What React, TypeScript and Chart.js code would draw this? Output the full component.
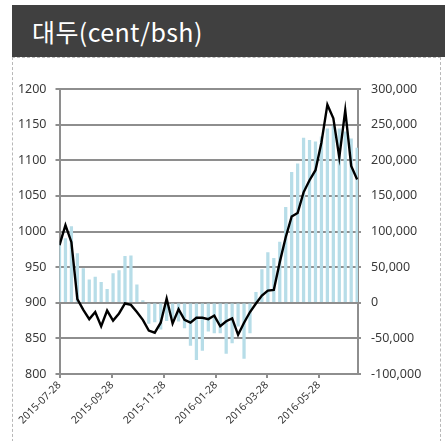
import React, { useEffect, useRef } from "react";
import { Chart, registerables } from "chart.js";

Chart.register(...registerables);

// Weekly observation dates
const dates = [
  "2015-07-28", "2015-08-04", "2015-08-11", "2015-08-18", "2015-08-25",
  "2015-09-01", "2015-09-08", "2015-09-15", "2015-09-22", "2015-09-29",
  "2015-10-06", "2015-10-13", "2015-10-20", "2015-10-27", "2015-11-03",
  "2015-11-10", "2015-11-17", "2015-11-24", "2015-12-01", "2015-12-08",
  "2015-12-15", "2015-12-22", "2015-12-29", "2016-01-05", "2016-01-12",
  "2016-01-19", "2016-01-26", "2016-02-02", "2016-02-09", "2016-02-16",
  "2016-02-23", "2016-03-01", "2016-03-08", "2016-03-15", "2016-03-22",
  "2016-03-29", "2016-04-05", "2016-04-12", "2016-04-19", "2016-04-26",
  "2016-05-03", "2016-05-10", "2016-05-17", "2016-05-24", "2016-05-31",
  "2016-06-07", "2016-06-14", "2016-06-21", "2016-06-28", "2016-07-05",
  "2016-07-12",
];

// Soybean price (cent/bsh), left axis
const priceCents = [
  981, 1009, 985, 905, 890, 877, 887, 867, 889, 875,
  885, 899, 897, 887, 876, 861, 858, 872, 906, 871,
  891, 876, 872, 879, 879, 877, 882, 867, 874, 878,
  855, 872, 887, 899, 910, 917, 918, 957, 992, 1021,
  1026, 1055, 1072, 1086, 1125, 1178, 1159, 1104, 1170, 1092,
  1073,
];

// Net positions (contracts), right axis
const netPositions = [
  85000, 90000, 107000, 69000, 48000, 32000, 36000, 28500, 19000, 41000,
  45000, 65000, 66000, 25000, 3000, -29000, -27000, -37000, -25000, -21500,
  -26000, -35500, -60000, -80000, -67000, -40000, -42500, -42500, -71000, -56500,
  -33000, -78000, -42500, 14500, 46500, 70500, 62500, 85000, 134000, 183000,
  195000, 231000, 228000, 226000, 233000, 244000, 248000, 244000, 240000, 230000,
  217000,
];

const xTickDates = ["2015-07-28", "2015-09-28", "2015-11-28", "2016-01-28", "2016-03-28", "2016-05-28"];
const axisStartDate = "2015-07-28";
const axisEndDate = "2016-07-13";
const leftTicks = [800, 850, 900, 950, 1000, 1050, 1100, 1150, 1200];
const rightTicks = [-100000, -50000, 0, 50000, 100000, 150000, 200000, 250000, 300000];
const title = "대두(cent/bsh)";

const DAY = 86400000;
const dayOf = (s: string) => (Date.parse(s) - Date.parse(axisStartDate)) / DAY;

const GRID = "#8e8e8e";
const TEXT = "#3a3a3a";
const FONT = "'Noto Sans', 'DejaVu Sans', sans-serif";

export default function App() {
  const ref = useRef<HTMLCanvasElement | null>(null);

  useEffect(() => {
    document.body.style.overflow = "hidden";
    const canvas = ref.current;
    if (!canvas) return;
    const labelByDay: Record<number, string> = {};
    xTickDates.forEach((d) => (labelByDay[dayOf(d)] = d));

    const chart = new Chart(canvas, {
      type: "bar",
      data: {
        datasets: [
          {
            type: "line",
            data: dates.map((d, i) => ({ x: dayOf(d), y: priceCents[i] })),
            borderColor: "#000000",
            borderWidth: 2.4,
            pointRadius: 0,
            tension: 0,
            fill: false,
            yAxisID: "y",
            order: 0,
          } as any,
          {
            type: "bar",
            data: dates.map((d, i) => ({ x: dayOf(d), y: netPositions[i] })),
            backgroundColor: "#b7dde8",
            barThickness: 2.6,
            yAxisID: "y1",
            order: 1,
          } as any,
        ],
      },
      options: {
        animation: false,
        responsive: false,
        maintainAspectRatio: false,
        layout: { padding: { top: 31, left: 0, right: 0, bottom: 0 } },
        plugins: { legend: { display: false }, tooltip: { enabled: false } },
        scales: {
          x: {
            type: "linear",
            offset: false,
            min: 0,
            max: dayOf(axisEndDate),
            afterBuildTicks: (s: any) => {
              s.ticks = xTickDates.map((d) => ({ value: dayOf(d) }));
            },
            afterFit: (s: any) => {
              s.height = 67;
            },
            ticks: {
              autoSkip: false,
              minRotation: 45,
              maxRotation: 45,
              padding: 1,
              color: TEXT,
              font: { family: FONT, size: 10.5 },
              callback: (v: any) => labelByDay[v] ?? "",
            },
            grid: { offset: false, drawOnChartArea: false, drawTicks: true, tickLength: 4, color: GRID, lineWidth: 2 },
            border: { display: true, color: GRID, width: 2 },
          },
          y: {
            position: "left",
            min: leftTicks[0],
            max: leftTicks[leftTicks.length - 1],
            afterBuildTicks: (s: any) => {
              s.ticks = leftTicks.map((v) => ({ value: v }));
            },
            afterFit: (s: any) => {
              s.width = 47.5;
            },
            ticks: {
              padding: 9,
              color: TEXT,
              font: { family: FONT, size: 12.5 },
              callback: (v: any) => String(v),
            },
            grid: { display: true, drawOnChartArea: true, color: GRID, lineWidth: 2, tickLength: 4 },
            border: { display: true, color: GRID, width: 2 },
          },
          y1: {
            position: "right",
            min: rightTicks[0],
            max: rightTicks[rightTicks.length - 1],
            afterBuildTicks: (s: any) => {
              s.ticks = rightTicks.map((v) => ({ value: v }));
            },
            afterFit: (s: any) => {
              s.width = 82;
            },
            ticks: {
              padding: 10,
              color: TEXT,
              font: { family: FONT, size: 12.5 },
              callback: (v: any) => Number(v).toLocaleString("en-US"),
            },
            grid: { drawOnChartArea: false, color: GRID, lineWidth: 2, tickLength: 3 },
            border: { display: true, color: GRID, width: 2 },
          },
        },
      },
    } as any);
    return () => chart.destroy();
  }, []);

  return (
    <div>
      <div
        style={{
          position: "absolute",
          left: 12,
          top: 5,
          width: 433,
          height: 52,
          background: "#404040",
          color: "#ffffff",
          fontFamily: "'Noto Sans CJK KR', 'Noto Sans', sans-serif",
          fontSize: 25,
          letterSpacing: 0.4,
          lineHeight: "52px",
          paddingLeft: 20,
          boxSizing: "border-box",
          whiteSpace: "nowrap",
        }}
      >
        {title}
      </div>
      <div
        style={{
          position: "absolute",
          left: 12,
          top: 57,
          width: 429,
          height: 390,
          border: "1px dashed #b8b8b8",
          boxSizing: "border-box",
        }}
      />
      <canvas
        ref={ref}
        width={428}
        height={383}
        style={{ position: "absolute", left: 12, top: 58, width: 428, height: 383 }}
      />
    </div>
  );
}
